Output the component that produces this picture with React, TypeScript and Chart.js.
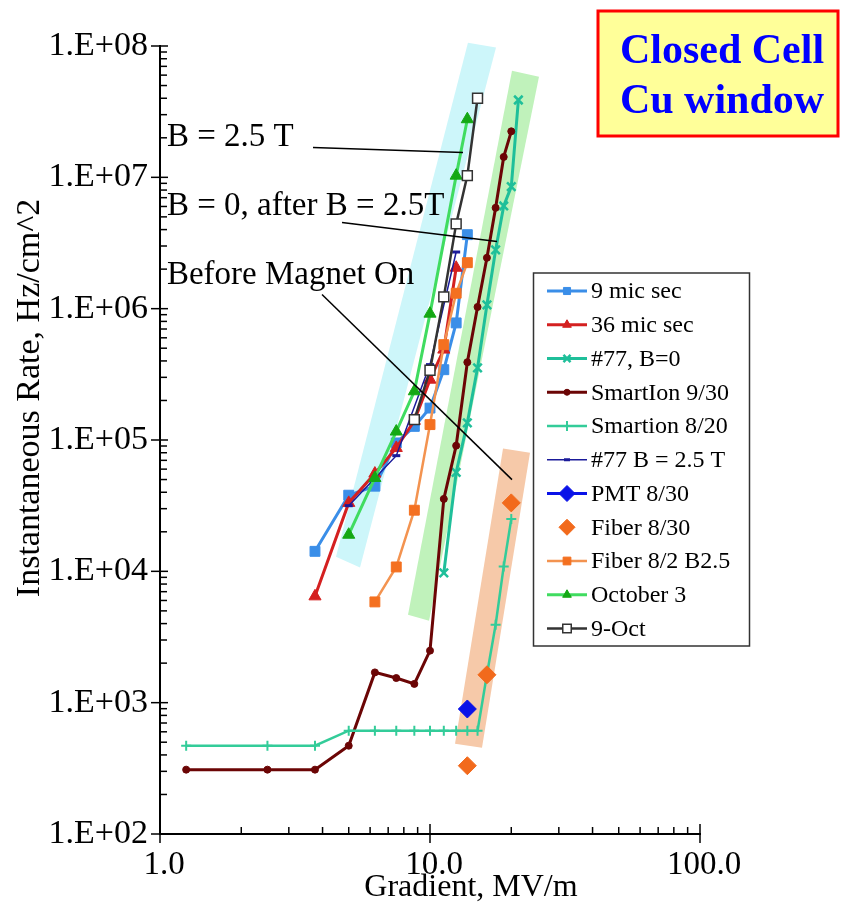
import React, { useEffect, useRef } from 'react';
import { Chart, registerables } from 'chart.js';
Chart.register(...registerables);

const FONT = '"Liberation Serif", "Times New Roman", serif';

// ---------- data (gradient MV/m, rate Hz/cm^2) ----------
const grad9mic = [3.75, 5, 6.25, 7.5, 8.75, 10, 11.25, 12.5, 13.75];
const rate9mic = [14200, 38000, 44500, 95000, 127000, 175000, 343000, 779000, 3660000];

const grad36mic = [3.75, 5, 6.25, 7.5, 8.75, 10, 11.25, 12.5];
const rate36mic = [6450, 33200, 55500, 87000, 140000, 288000, 488000, 2050000];

const grad77B0 = [11.25, 12.5, 13.75, 15, 16.25, 17.5, 18.75, 20, 21.25];
const rate77B0 = [9730, 56600, 135000, 354000, 1070000, 2800000, 6050000, 8500000, 38800000];

const gradSmartIon930 = [1.25, 2.5, 3.75, 5, 6.25, 7.5, 8.75, 10, 11.25, 12.5, 13.75, 15, 16.25, 17.5, 18.75, 20];
const rateSmartIon930 = [309, 309, 309, 470, 1700, 1540, 1390, 2490, 35600, 90600, 391000, 1030000, 2440000, 5860000, 14300000, 22400000];

const gradSmartion820 = [1.25, 2.5, 3.75, 5, 6.25, 7.5, 8.75, 10, 11.25, 12.5, 13.75, 15, 16.25, 17.5, 18.75, 20];
const rateSmartion820 = [470, 470, 470, 612, 612, 612, 612, 612, 612, 612, 612, 612, 1640, 3920, 10900, 25000];

const grad77B25 = [5, 7.5, 10, 12.5];
const rate77B25 = [31600, 76000, 375000, 2700000];

const gradPMT830 = [13.75];
const ratePMT830 = [895];

const gradFiber830 = [13.75, 16.25, 20];
const rateFiber830 = [331, 1630, 33200];

const gradFiber82 = [6.25, 7.5, 8.75, 10, 11.25, 12.5, 13.75];
const rateFiber82 = [5850, 10800, 29200, 131000, 532000, 1310000, 2240000];

const gradOct3 = [5, 6.25, 7.5, 8.75, 10, 12.5, 13.75];
const rateOct3 = [19000, 51400, 116000, 235000, 916000, 10300000, 27700000];

const gradOct9 = [8.75, 10, 11.25, 12.5, 13.75, 15];
const rateOct9 = [143000, 340000, 1230000, 4420000, 10300000, 40000000];

// ---------- ticks ----------
const xMajorTicks = [1, 10, 100];
const xTickLabels = ['1.0', '10.0', '100.0'];
const yMajorTicks = [1e2, 1e3, 1e4, 1e5, 1e6, 1e7, 1e8];
const yTickLabels = ['1.E+02', '1.E+03', '1.E+04', '1.E+05', '1.E+06', '1.E+07', '1.E+08'];

// ---------- highlight bands (corners TL, TR, BR, BL in data units) ----------
const bandCyanX = [13.82, 17.56, 5.505, 4.485];
const bandCyanY = [1.06e8, 9.75e7, 10700, 12900];
const bandGreenX = [20.12, 25.33, 9.92, 8.29];
const bandGreenY = [6.49e7, 5.84e7, 4213, 4680];
const bandPeachX = [18.64, 23.46, 15.58, 12.38];
const bandPeachY = [86000, 80100, 454, 486];

// ---------- annotations ----------
const noteTexts = ['B = 2.5 T', 'B = 0, after B = 2.5T', 'Before Magnet On'];
const noteTextX = [1.061, 1.061, 1.061];
const noteTextY = [1.72e7, 5.21e6, 1.53e6];
const leaderX1 = [3.687, 4.722, 3.981];
const leaderY1 = [1.687e7, 4.53e6, 1.28e6];
const leaderX2 = [13.25, 17.71, 20.12];
const leaderY2 = [1.545e7, 3.24e6, 49900];

function withMinor(majors: number[]) {
  const out: any[] = [];
  majors.forEach((m, i) => {
    out.push({ value: m, major: true });
    if (i < majors.length - 1) for (let k = 2; k <= 9; k++) out.push({ value: m * k, major: false });
  });
  return out;
}

function pts(xs: number[], ys: number[]) {
  return xs.map((x, i) => ({ x, y: ys[i] }));
}

function drawMarker(ctx: CanvasRenderingContext2D, style: string, x: number, y: number, r: number, fill: string, stroke: string, lw: number) {
  ctx.save();
  ctx.fillStyle = fill;
  ctx.strokeStyle = stroke;
  ctx.lineWidth = lw;
  ctx.beginPath();
  if (style === 'rect') {
    const s = r * Math.SQRT1_2;
    ctx.rect(x - s, y - s, 2 * s, 2 * s);
    ctx.fill();
    ctx.stroke();
  } else if (style === 'rectRot') {
    ctx.moveTo(x, y - r); ctx.lineTo(x + r, y); ctx.lineTo(x, y + r); ctx.lineTo(x - r, y); ctx.closePath();
    ctx.fill(); ctx.stroke();
  } else if (style === 'triangle') {
    ctx.moveTo(x, y - r); ctx.lineTo(x + r * 0.866, y + r * 0.5); ctx.lineTo(x - r * 0.866, y + r * 0.5); ctx.closePath();
    ctx.fill(); ctx.stroke();
  } else if (style === 'circle') {
    ctx.arc(x, y, r, 0, Math.PI * 2);
    ctx.fill(); ctx.stroke();
  } else if (style === 'cross') {
    ctx.moveTo(x, y - r); ctx.lineTo(x, y + r); ctx.moveTo(x - r, y); ctx.lineTo(x + r, y);
    ctx.stroke();
  } else if (style === 'crossRot') {
    const d = r * 0.707;
    ctx.moveTo(x - d, y - d); ctx.lineTo(x + d, y + d); ctx.moveTo(x + d, y - d); ctx.lineTo(x - d, y + d);
    ctx.stroke();
  } else if (style === 'line') {
    ctx.moveTo(x - r, y); ctx.lineTo(x + r, y);
    ctx.stroke();
  }
  ctx.restore();
}

const bandsPlugin = {
  id: 'bands',
  beforeDatasetsDraw(chart: any) {
    const { ctx, scales } = chart;
    const xs = scales.x, ys = scales.y;
    const bands: [number[], number[], string][] = [
      [bandCyanX, bandCyanY, '#cdf6fa'],
      [bandGreenX, bandGreenY, '#c0f2bb'],
      [bandPeachX, bandPeachY, '#f6c9a9'],
    ];
    ctx.save();
    for (const [bx, by, col] of bands) {
      ctx.beginPath();
      bx.forEach((v, i) => {
        const px = xs.getPixelForValue(v), py = ys.getPixelForValue(by[i]);
        if (i === 0) ctx.moveTo(px, py); else ctx.lineTo(px, py);
      });
      ctx.closePath();
      ctx.fillStyle = col;
      ctx.fill();
    }
    ctx.restore();
  },
};

const notesPlugin = {
  id: 'notes',
  afterDatasetsDraw(chart: any) {
    const { ctx, scales } = chart;
    const xs = scales.x, ys = scales.y;
    ctx.save();
    ctx.strokeStyle = '#000';
    ctx.lineWidth = 1.5;
    leaderX1.forEach((v, i) => {
      ctx.beginPath();
      ctx.moveTo(xs.getPixelForValue(v), ys.getPixelForValue(leaderY1[i]));
      ctx.lineTo(xs.getPixelForValue(leaderX2[i]), ys.getPixelForValue(leaderY2[i]));
      ctx.stroke();
    });
    ctx.fillStyle = '#000';
    ctx.font = `33px ${FONT}`;
    ctx.textBaseline = 'alphabetic';
    ctx.textAlign = 'left';
    noteTexts.forEach((t, i) => {
      ctx.fillText(t, xs.getPixelForValue(noteTextX[i]), ys.getPixelForValue(noteTextY[i]));
    });
    ctx.restore();
  },
};

const framePlugin = {
  id: 'frame',
  afterDraw(chart: any) {
    const { ctx, chartArea, scales } = chart;
    const xs = scales.x, ys = scales.y;
    ctx.save();
    // tick marks
    ctx.strokeStyle = '#000';
    ctx.lineWidth = 1.5;
    for (const t of xs.ticks) {
      const px = xs.getPixelForValue(t.value);
      ctx.beginPath();
      if (t.major) { ctx.moveTo(px, chartArea.bottom + 9); ctx.lineTo(px, chartArea.bottom - 10); }
      else { ctx.moveTo(px, chartArea.bottom); ctx.lineTo(px, chartArea.bottom - 7); }
      ctx.stroke();
    }
    for (const t of ys.ticks) {
      const py = ys.getPixelForValue(t.value);
      ctx.beginPath();
      if (t.major) { ctx.moveTo(chartArea.left - 9, py); ctx.lineTo(chartArea.left + 8, py); }
      else { ctx.moveTo(chartArea.left, py); ctx.lineTo(chartArea.left + 7, py); }
      ctx.stroke();
    }
    // axis titles
    ctx.fillStyle = '#000';
    ctx.font = `32px ${FONT}`;
    ctx.textAlign = 'center';
    ctx.textBaseline = 'middle';
    ctx.fillText('Gradient, MV/m', 471, 888);
    ctx.save();
    ctx.translate(30, 398);
    ctx.rotate(-Math.PI / 2);
    ctx.font = `34px ${FONT}`;
    ctx.fillText('Instantaneous Rate, Hz/cm^2', 0, 0);
    ctx.restore();

    // legend
    const lx = 533.5, ly = 273, lw = 216, lh = 373;
    ctx.fillStyle = '#fff';
    ctx.fillRect(lx, ly, lw, lh);
    ctx.strokeStyle = '#333';
    ctx.lineWidth = 1.5;
    ctx.strokeRect(lx, ly, lw, lh);
    ctx.font = `24px ${FONT}`;
    ctx.textAlign = 'left';
    ctx.textBaseline = 'middle';
    chart.data.datasets.forEach((ds: any, i: number) => {
      const cy = 291 + 33.75 * i;
      if (ds.showLine !== false) {
        ctx.strokeStyle = ds.borderColor;
        ctx.lineWidth = Math.min(ds.borderWidth, 3);
        ctx.beginPath();
        ctx.moveTo(547, cy);
        ctx.lineTo(587, cy);
        ctx.stroke();
      }
      drawMarker(ctx, ds.pointStyle, 567, cy, ds.legendRadius, ds.pointBackgroundColor, ds.pointBorderColor, ds.pointBorderWidth);
      ctx.fillStyle = '#000';
      ctx.fillText(ds.label, 591, cy + 1);
    });

    // title box
    ctx.fillStyle = '#ffff99';
    ctx.fillRect(598, 11, 240, 125);
    ctx.strokeStyle = '#ff0000';
    ctx.lineWidth = 3;
    ctx.strokeRect(598, 11, 240, 125);
    ctx.fillStyle = '#0000ff';
    ctx.font = `bold 42px ${FONT}`;
    ctx.textAlign = 'center';
    ctx.textBaseline = 'alphabetic';
    ctx.fillText('Closed Cell', 722, 63);
    ctx.fillText('Cu window', 722, 113);
    ctx.restore();
  },
};

function makeSet(label: string, xs: number[], ys: number[], o: any) {
  return {
    label,
    data: pts(xs, ys),
    showLine: true,
    borderWidth: 3,
    tension: 0,
    pointBorderWidth: 1,
    ...o,
  };
}

export default function App() {
  const ref = useRef<HTMLCanvasElement | null>(null);
  useEffect(() => {
    document.body.style.margin = '0';
    const canvas = ref.current;
    if (!canvas) return;
    const sets = [
      makeSet('9 mic sec', grad9mic, rate9mic, { borderColor: '#3a8ee8', pointBackgroundColor: '#3a8ee8', pointBorderColor: '#3a8ee8', pointStyle: 'rect', pointRadius: 7, legendRadius: 5 }),
      makeSet('36 mic sec', grad36mic, rate36mic, { borderColor: '#d42020', pointBackgroundColor: '#d42020', pointBorderColor: '#d42020', pointStyle: 'triangle', pointRadius: 7, legendRadius: 5 }),
      makeSet('#77, B=0', grad77B0, rate77B0, { borderColor: '#1fbf9a', pointBackgroundColor: '#1fbf9a', pointBorderColor: '#1fbf9a', pointStyle: 'crossRot', pointRadius: 6, pointBorderWidth: 2.5, legendRadius: 5 }),
      makeSet('SmartIon 9/30', gradSmartIon930, rateSmartIon930, { borderColor: '#6b0505', pointBackgroundColor: '#6b0505', pointBorderColor: '#6b0505', pointStyle: 'circle', pointRadius: 3.5, legendRadius: 3 }),
      makeSet('Smartion 8/20', gradSmartion820, rateSmartion820, { borderColor: '#33cc99', pointBackgroundColor: '#33cc99', pointBorderColor: '#33cc99', pointStyle: 'cross', pointRadius: 5, pointBorderWidth: 2, borderWidth: 2.5, legendRadius: 5 }),
      makeSet('#77 B = 2.5 T', grad77B25, rate77B25, { borderColor: '#1a1a9a', pointBackgroundColor: '#1a1a9a', pointBorderColor: '#1a1a9a', pointStyle: 'line', pointRadius: 4, pointBorderWidth: 3, borderWidth: 1.5, legendRadius: 3 }),
      makeSet('PMT 8/30', gradPMT830, ratePMT830, { borderColor: '#0a12e8', pointBackgroundColor: '#0a12e8', pointBorderColor: '#0a12e8', pointStyle: 'rectRot', pointRadius: 9, legendRadius: 8 }),
      makeSet('Fiber 8/30', gradFiber830, rateFiber830, { showLine: false, borderColor: '#f26a1c', pointBackgroundColor: '#f26a1c', pointBorderColor: '#f26a1c', pointStyle: 'rectRot', pointRadius: 9, legendRadius: 8 }),
      makeSet('Fiber 8/2 B2.5', gradFiber82, rateFiber82, { borderColor: '#f39350', borderWidth: 2.5, pointBackgroundColor: '#f47020', pointBorderColor: '#f47020', pointStyle: 'rect', pointRadius: 7, legendRadius: 5.5 }),
      makeSet('October 3', gradOct3, rateOct3, { borderColor: '#40dc60', pointBackgroundColor: '#14a814', pointBorderColor: '#14a814', pointStyle: 'triangle', pointRadius: 7, legendRadius: 5 }),
      makeSet('9-Oct', gradOct9, rateOct9, { borderColor: '#333333', borderWidth: 2.5, pointBackgroundColor: '#ffffff', pointBorderColor: '#333333', pointBorderWidth: 1.5, pointStyle: 'rect', pointRadius: 7, legendRadius: 6 }),
    ];
    sets.forEach((s: any, i: number) => { s.order = sets.length - i; });

    const chart = new Chart(canvas, {
      type: 'scatter',
      data: { datasets: sets as any },
      plugins: [bandsPlugin, notesPlugin, framePlugin],
      options: {
        responsive: false,
        animation: false,
        devicePixelRatio: 1,
        layout: { padding: { top: 46, right: 143, bottom: 0, left: 0 } },
        plugins: { legend: { display: false }, tooltip: { enabled: false } },
        scales: {
          x: {
            type: 'logarithmic',
            min: 1,
            max: 100,
            afterBuildTicks: (s: any) => { s.ticks = withMinor(xMajorTicks); },
            afterFit: (s: any) => { s.height = 72; },
            grid: { display: false, drawTicks: true, tickLength: 10 },
            border: { display: true, color: '#000', width: 2 },
            ticks: {
              autoSkip: false,
              maxRotation: 0,
              padding: 2,
              labelOffset: 4,
              color: '#000',
              font: { family: FONT, size: 33 },
              callback: (v: any) => {
                const i = xMajorTicks.indexOf(Number(v));
                return i >= 0 ? xTickLabels[i] : '';
              },
            },
          },
          y: {
            type: 'logarithmic',
            min: 100,
            max: 1e8,
            afterBuildTicks: (s: any) => { s.ticks = withMinor(yMajorTicks); },
            afterFit: (s: any) => { s.width = 160; },
            grid: { display: false, drawTicks: true, tickLength: 10 },
            border: { display: true, color: '#000', width: 2 },
            ticks: {
              autoSkip: false,
              padding: 2,
              color: '#000',
              font: { family: FONT, size: 34 },
              callback: (v: any) => {
                const i = yMajorTicks.indexOf(Number(v));
                return i >= 0 ? yTickLabels[i] : '';
              },
            },
          },
        },
      } as any,
    });
    return () => chart.destroy();
  }, []);
  return (
    <div style={{ width: 843, height: 906, background: '#fff' }}>
      <canvas ref={ref} width={843} height={906} style={{ display: 'block' }} />
    </div>
  );
}
